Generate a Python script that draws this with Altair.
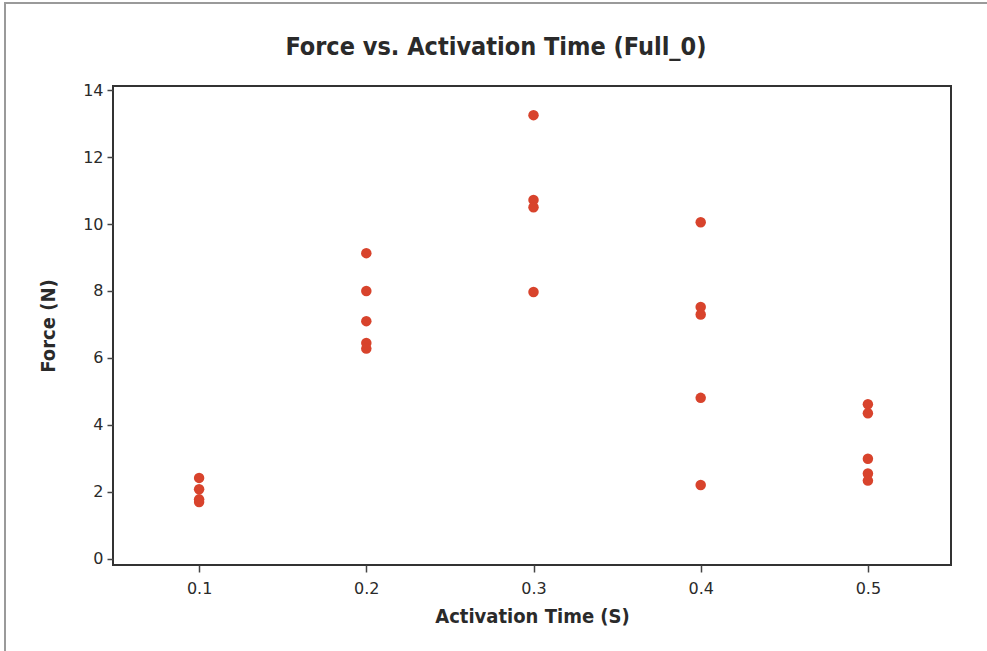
import altair as alt
import pandas as pd

# Data
time_s = [0.1, 0.1, 0.1, 0.1,
          0.2, 0.2, 0.2, 0.2, 0.2,
          0.3, 0.3, 0.3, 0.3,
          0.4, 0.4, 0.4, 0.4, 0.4,
          0.5, 0.5, 0.5, 0.5, 0.5]
force_n = [2.42, 2.08, 1.78, 1.70,
           9.13, 8.00, 7.10, 6.45, 6.28,
           13.25, 10.72, 10.50, 7.97,
           10.05, 7.52, 7.30, 4.81, 2.21,
           4.62, 4.35, 2.99, 2.55, 2.34]
x_ticks = [0.1, 0.2, 0.3, 0.4, 0.5]
y_ticks = [0, 2, 4, 6, 8, 10, 12, 14]

df = pd.DataFrame({"t": time_s, "f": force_n})

TITLE_FONT = "'DejaVu Sans Condensed', 'Liberation Sans Narrow', 'Roboto Condensed', 'DejaVu Sans', sans-serif"
LABEL_FONT = "'DejaVu Sans', Verdana, sans-serif"

W, H = 838, 479

points = alt.Chart(df).mark_circle(size=110, opacity=1, color="#d8432c").encode(
    x=alt.X("t:Q", title="Activation Time (S)",
            scale=alt.Scale(domain=[0.0485, 0.5497], nice=False, zero=False),
            axis=alt.Axis(values=x_ticks, format=".1f", grid=False,
                          tickSize=7, labelPadding=8,
                          titleY=51, titleBaseline="middle")),
    y=alt.Y("f:Q", title="Force (N)",
            scale=alt.Scale(domain=[-0.18, 14.12], nice=False, zero=False),
            axis=alt.Axis(values=y_ticks, format="d", grid=False,
                          tickSize=6, labelPadding=4,
                          titleX=-65, titleY=H / 2, titleBaseline="middle")),
)

border = alt.Chart(pd.DataFrame({"a": [0]})).mark_rect(
    filled=False, stroke="#9a9a9a", strokeWidth=2
).encode(
    x=alt.value(-108), x2=alt.value(W + 60),
    y=alt.value(-83), y2=alt.value(H + 120),
)

chart = alt.layer(border, points).properties(
    width=W, height=H,
    autosize=alt.AutoSizeParams(type="none"),
    padding={"left": 113, "top": 86, "right": 36, "bottom": 86},
    title=alt.TitleParams("Force vs. Activation Time (Full_0)", font=TITLE_FONT,
                          fontSize=25, fontWeight="bold", color="#2a2a2a",
                          anchor="middle", dx=-36, dy=84, offset=26),
).configure(
    background="white"
).configure_view(
    stroke="#333333", strokeWidth=2
).configure_axis(
    domain=False, tickColor="#444444", tickWidth=1.5,
    labelFont=LABEL_FONT, labelFontSize=16, labelColor="#2a2a2a",
    titleFont=TITLE_FONT, titleFontSize=20, titleFontWeight="bold",
    titleColor="#2a2a2a",
)

chart.save("out.html", embed_options={"renderer": "svg", "actions": False})
